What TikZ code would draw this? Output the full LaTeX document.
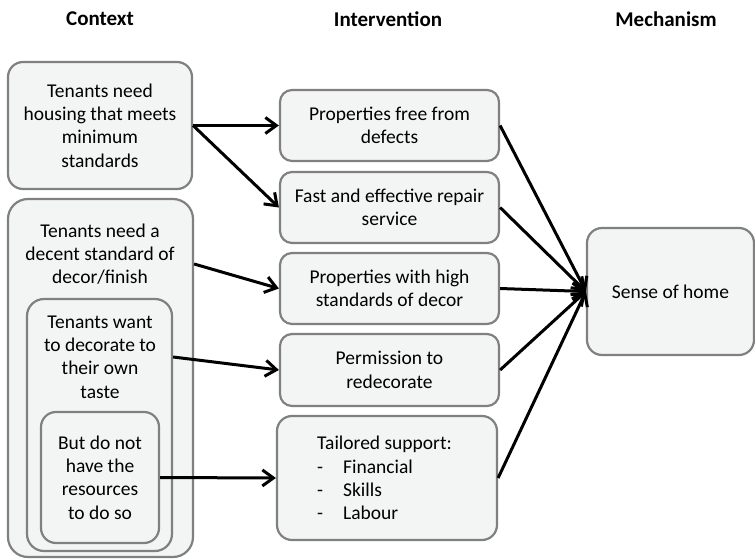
\documentclass[tikz,border=0pt]{standalone}
\usepackage{fontspec}
\setmainfont{Carlito}
\usetikzlibrary{arrows.meta}
\usetikzlibrary{positioning}
\definecolor{mgrey}{rgb}{0.5, 0.5, 0.5}
\definecolor{mfill}{rgb}{0.953, 0.957, 0.957}
\tikzset{cbox/.style = {draw = mgrey, fill = mfill, line width = 2.2, rounded corners = 15, inner sep = 0, align = center, font = \fontsize{19.5}{23.3}\selectfont}}
\tikzset{ctext/.style = {inner sep = 0, align = center, font = \fontsize{19.5}{23.3}\selectfont}}
\tikzset{head/.style = {font = \bfseries\fontsize{21}{25}\selectfont}}
\tikzset{arr/.style = {line width = 3, -{Straight Barb[length = 11, width = 16]}}}

\begin{document}
\begin{tikzpicture}[x = 1pt, y = -1pt]
      \useasboundingbox (0, 0) rectangle (755, 559);

      \node [head] (hctx) at (100, 19) {Context};
      \node [head] (hint) at (388, 19) {Intervention};
      \node [head] (hmech) at (666, 19) {Mechanism};

      \node [cbox, minimum width = 184, minimum height = 127] (ctxA) at (100, 125.5) {Tenants need\\housing that meets\\minimum\\standards};
      \node [cbox, rounded corners = 20, minimum width = 185, minimum height = 358] (ctxB) at (100.5, 378) {};
      \node [ctext] (ctxBtext) at (100, 254) {Tenants need a\\decent standard of\\decor/finish};
      \node [cbox, rounded corners = 17, minimum width = 145, minimum height = 252] (ctxC) at (99.5, 425) {};
      \node [ctext] (ctxCtext) at (100, 357) {Tenants want\\to decorate to\\their own\\taste};
      \node [cbox, minimum width = 118, minimum height = 131] (ctxD) at (100, 477.5) {But do not\\have the\\resources\\to do so};

      \node [cbox, rounded corners = 12, minimum width = 219, minimum height = 71] (int1) at (389.5, 125.5) {Properties free from\\defects};
      \node [cbox, rounded corners = 12, minimum width = 219, minimum height = 71] (int2) at (389.5, 207.5) {Fast and effective repair\\service};
      \node [cbox, rounded corners = 12, minimum width = 219, minimum height = 71] (int3) at (389.5, 288.5) {Properties with high\\standards of decor};
      \node [cbox, rounded corners = 12, minimum width = 219, minimum height = 72] (int4) at (389.5, 370) {Permission to\\redecorate};
      \node [cbox, rounded corners = 15, minimum width = 220, minimum height = 124] (int5) at (387, 478) {};
      \node [ctext, align = left, anchor = west] (int5text) at (317, 478) {Tailored support:\\-\hspace{20pt}Financial\\-\hspace{20pt}Skills\\-\hspace{20pt}Labour};

      \node [cbox, minimum width = 167, minimum height = 127] (mech) at (670.5, 291.5) {Sense of home};

      \draw [arr] (ctxA.east) -- (int1.west);
      \draw [arr] (ctxA.east) -- (int2.west);
      \draw [arr] ([yshift = 114]ctxB.east) -- (int3.west);
      \draw [arr] (ctxC.east |- ctxCtext) -- (int4.west);
      \draw [arr] (ctxD.east) -- (int5.west);
      \foreach \i in {1, ..., 5}
        \draw [arr] (int\i.east) -- (mech.west);
    \end{tikzpicture}
\end{document}
